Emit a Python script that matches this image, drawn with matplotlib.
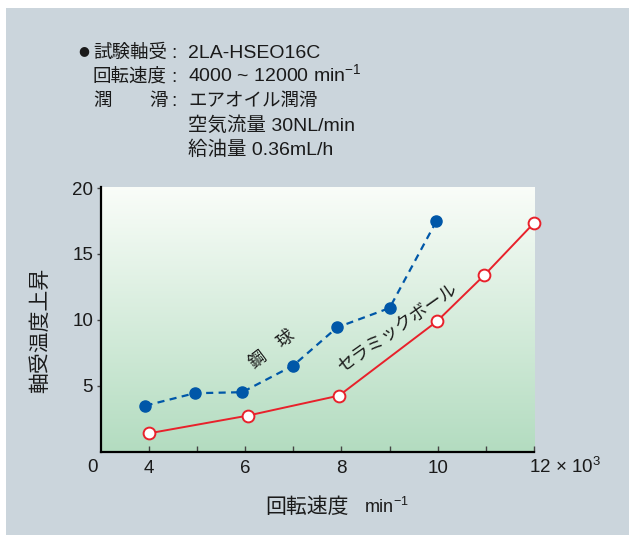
import numpy as np
import matplotlib
matplotlib.use("Agg")
import matplotlib.pyplot as plt
from matplotlib.patches import Rectangle

plt.rcParams['font.family'] = ['Liberation Sans', 'Noto Sans CJK JP', 'DejaVu Sans']
plt.rcParams['mathtext.fontset'] = 'custom'
plt.rcParams['mathtext.rm'] = 'Liberation Sans'
plt.rcParams['mathtext.it'] = 'Liberation Sans'
plt.rcParams['mathtext.default'] = 'rm'

# ---- data (rotational speed x10^3 min^-1, temperature rise) ----
steel_x = [3.93, 4.95, 5.94, 7.0, 7.91, 9.0, 9.97]
steel_y = [3.5, 4.44, 4.52, 6.54, 9.43, 10.9, 17.47]
ceramic_x = [4.0, 6.05, 7.95, 9.98, 10.97, 12.0]
ceramic_y = [1.4, 2.74, 4.26, 9.88, 13.4, 17.35]

x_major = [4, 6, 8, 10, 12]
x_major_labels = ['4', '6', '8', '10', '']
x_minor = [5, 7, 9, 11]
y_ticks = [5, 10, 15, 20]
y_labels = ['5', '10', '15', '20']

W, H = 629, 535
fig = plt.figure(figsize=(W / 100, H / 100), dpi=100)
fig.patch.set_facecolor('white')

def fx(x):
    return x / W

def fy(y):
    return 1 - y / H

# gray panel
fig.patches.append(Rectangle((fx(6), 0), 1 - fx(6), fy(8), transform=fig.transFigure,
                             facecolor='#CBD5DC', edgecolor='none', zorder=-10))

TXT = '#1a1a1a'

ax = fig.add_axes([fx(100.7), fy(451.8), fx(534) - fx(100.7), fy(186.7) - fy(451.8)])
ax.set_zorder(1)
ax.set_xlim(3, 12)
ax.set_ylim(0, 20.1)
ax.patch.set_alpha(0)

# gradient background
top = np.array([250, 253, 249]) / 255
bot = np.array([179, 220, 192]) / 255
t = np.linspace(0, 1, 256)[:, None]
grad = (top[None, :] * (1 - t) + bot[None, :] * t)[:, None, :]
ax.imshow(grad, extent=[3, 12, 0, 20.1], aspect='auto', origin='upper', zorder=0,
          interpolation='bilinear')

blue = '#0057A8'
red = '#E8212B'
ax.plot(steel_x, steel_y, color=blue, lw=1.6, linestyle=(0, (3.2, 2.4)),
        marker='o', markersize=8, markerfacecolor=blue, markeredgecolor=blue,
        zorder=3, clip_on=False)
ax.plot(ceramic_x, ceramic_y, color=red, lw=1.4, marker='o', markersize=8.5,
        markerfacecolor='white', markeredgecolor=red, markeredgewidth=1.4,
        zorder=3, clip_on=False)

for s in ['top', 'right']:
    ax.spines[s].set_visible(False)
for s in ['left', 'bottom']:
    ax.spines[s].set_linewidth(1.6)
    ax.spines[s].set_color('black')
    ax.spines[s].set_zorder(4)

ax.set_xticks(x_major)
ax.set_xticklabels(x_major_labels)
ax.set_xticks(x_minor, minor=True)
ax.tick_params(axis='x', which='both', direction='in', length=4, width=1.0,
               color='#444444', labelsize=13.5, pad=6, labelcolor=TXT)
ax.set_yticks(y_ticks)
ax.set_yticklabels(y_labels)
ax.tick_params(axis='y', which='both', direction='out', length=3, width=1.0,
               color='#444444', labelsize=13.5, pad=2.5, labelcolor=TXT)

# corner "0" and last label
fig.text(fx(92.5), fy(467), '0', fontsize=13.5, ha='center', va='center', color=TXT)
fig.text(fx(529), fy(467), '12 × 10$^{3}$', fontsize=13.5, ha='left', va='center', color=TXT)

# curve labels
ax.text(6.57, 7.73, '鋼　球', fontsize=12.5, rotation=37, ha='center', va='center',
        color=TXT, zorder=5)
ax.text(9.2, 9.32, 'セラミックボール', fontsize=12.8, rotation=35, ha='center', va='center',
        color=TXT, zorder=5)

# axis labels
fig.text(fx(40.7), fy(330), '軸受温度上昇', fontsize=15, rotation=90, ha='center',
         va='center', color=TXT)
fig.text(fx(265), fy(513), '回転速度', fontsize=15, ha='left', va='baseline', color=TXT)
fig.text(fx(364), fy(513), 'min$^{-1}$', fontsize=13, ha='left', va='baseline', color=TXT)

# condition block
FS = 14
FJ = 13.3
bl = [58, 81.5, 106, 131, 154.5]
fig.text(fx(84), fy(bl[0] - 7), '●', fontsize=9, ha='center', va='center', color=TXT,
         family='DejaVu Sans')
fig.text(fx(93), fy(bl[0]), '試験軸受', fontsize=FJ, ha='left', va='baseline', color=TXT)
fig.text(fx(93), fy(bl[1]), '回転速度', fontsize=FJ, ha='left', va='baseline', color=TXT)
fig.text(fx(93), fy(bl[2]), '潤', fontsize=FJ, ha='left', va='baseline', color=TXT)
fig.text(fx(149), fy(bl[2]), '滑', fontsize=FJ, ha='left', va='baseline', color=TXT)
for i in range(3):
    fig.text(fx(174), fy(bl[i]), ':', fontsize=FS, ha='center', va='baseline', color=TXT)
fig.text(fx(188), fy(bl[0]), '2LA-HSEO16C', fontsize=FS, ha='left', va='baseline', color=TXT)
fig.text(fx(188), fy(bl[1]), '4000 ~ 12000 min$^{-1}$', fontsize=FS, ha='left',
         va='baseline', color=TXT)
fig.text(fx(188), fy(bl[2]), 'エアオイル潤滑', fontsize=FJ, ha='left', va='baseline', color=TXT)
fig.text(fx(188), fy(bl[3]), '空気流量 30NL/min', fontsize=FS, ha='left', va='baseline', color=TXT)
fig.text(fx(188), fy(bl[4]), '給油量 0.36mL/h', fontsize=FS, ha='left', va='baseline', color=TXT)

fig.savefig('out.png', dpi=100, facecolor=fig.get_facecolor())
